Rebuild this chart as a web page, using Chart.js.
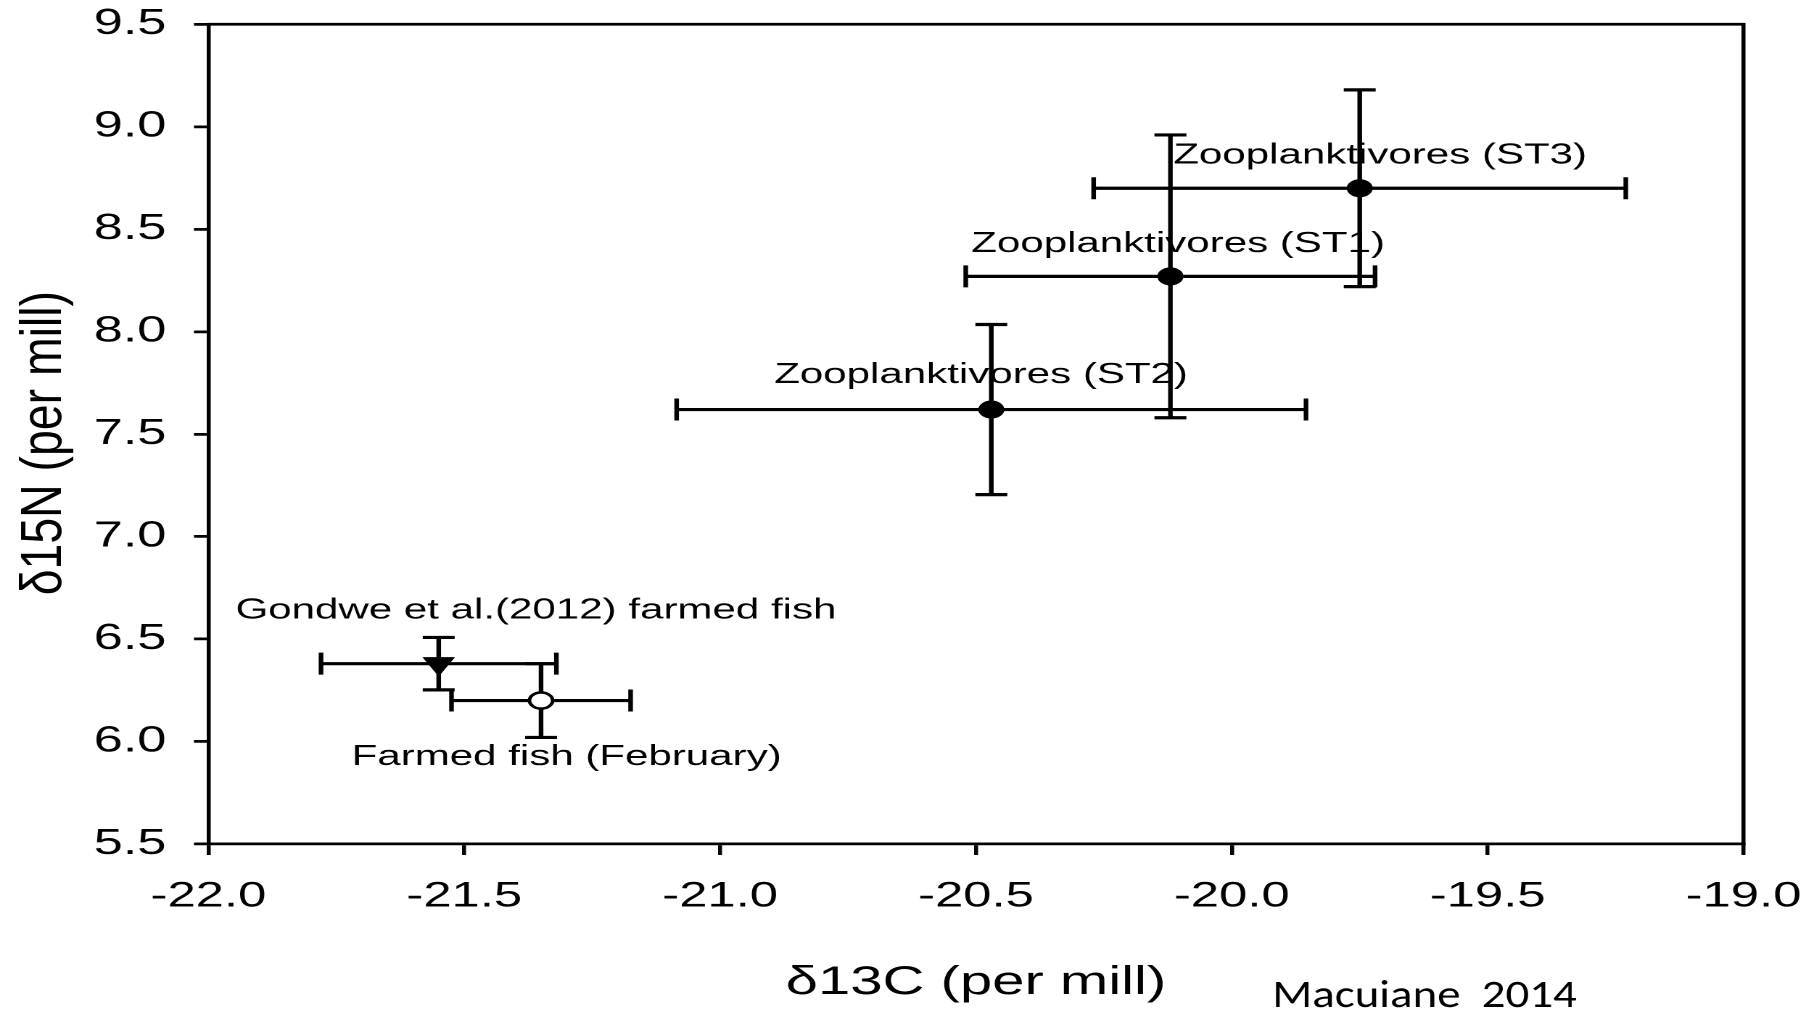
<!DOCTYPE html>
<html>
<head>
<meta charset="utf-8">
<title>d13C vs d15N</title>
<script src="https://cdn.jsdelivr.net/npm/chart.js@4.4.1/dist/chart.umd.min.js"></script>
<style>
  html, body { margin: 0; padding: 0; background: #fff; overflow: hidden; }
  /* the source figure is stretched sideways, so the chart is drawn narrow and widened */
  #wrap { width: 1254px; height: 1016px; transform: scaleX(1.4506); transform-origin: 0 0; }
</style>
</head>
<body>
<div id="wrap"><canvas id="isoChart" width="1254" height="1016"></canvas></div>
<script>
const groups = ['Zooplanktivores (ST3)', 'Zooplanktivores (ST1)', 'Zooplanktivores (ST2)',
                'Gondwe et al.(2012) farmed fish', 'Farmed fish (February)'];
const d13C    = [-19.75, -20.12, -20.47, -21.55, -21.35];
const d15N    = [8.70, 8.27, 7.62, 6.38, 6.20];
const d13CErr = [0.52, 0.40, 0.615, 0.23, 0.175];
const d15NErr = [0.48, 0.69, 0.415, 0.128, 0.18];

const xTicks = [-22.0, -21.5, -21.0, -20.5, -20.0, -19.5, -19.0];
const yTicks = [5.5, 6.0, 6.5, 7.0, 7.5, 8.0, 8.5, 9.0, 9.5];

// where each group's name is written (data units, text centre / baseline)
const labelX = [-19.71, -20.105, -20.49, -21.36, -21.30];
const labelY = [8.82, 8.39, 7.75, 6.60, 5.885];

const FONT = "'Liberation Sans', Arial, sans-serif";

function pointsFor(idx) {
  return idx.map(i => ({ x: d13C[i], y: d15N[i] }));
}

const errorBars = {
  id: 'errorBars',
  beforeDatasetsDraw(chart) {
    const { ctx, scales: { x, y } } = chart;
    const cap = 11;
    ctx.save();
    ctx.strokeStyle = '#000';
    ctx.lineWidth = 3.2;
    d13C.forEach((cx, i) => {
      const px = x.getPixelForValue(cx);
      const py = y.getPixelForValue(d15N[i]);
      const x0 = x.getPixelForValue(cx - d13CErr[i]);
      const x1 = x.getPixelForValue(cx + d13CErr[i]);
      const y0 = y.getPixelForValue(d15N[i] + d15NErr[i]);
      const y1 = y.getPixelForValue(d15N[i] - d15NErr[i]);
      ctx.beginPath();
      ctx.moveTo(x0, py); ctx.lineTo(x1, py);
      ctx.moveTo(x0, py - cap); ctx.lineTo(x0, py + cap);
      ctx.moveTo(x1, py - cap); ctx.lineTo(x1, py + cap);
      ctx.moveTo(px, y0); ctx.lineTo(px, y1);
      ctx.moveTo(px - cap, y0); ctx.lineTo(px + cap, y0);
      ctx.moveTo(px - cap, y1); ctx.lineTo(px + cap, y1);
      ctx.stroke();
    });
    ctx.restore();
  }
};

// top and right sides of the box
const frame = {
  id: 'frame',
  afterDraw(chart) {
    const { ctx, chartArea: a } = chart;
    ctx.save();
    ctx.strokeStyle = '#000';
    ctx.lineWidth = 2.75;
    ctx.lineCap = 'square';
    ctx.beginPath();
    ctx.moveTo(a.left, a.top);
    ctx.lineTo(a.right, a.top);
    ctx.lineTo(a.right, a.bottom);
    ctx.stroke();
    ctx.restore();
  }
};

const texts = {
  id: 'texts',
  afterDraw(chart) {
    const { ctx, chartArea: a, scales: { x, y } } = chart;
    ctx.save();
    ctx.fillStyle = '#000';
    ctx.font = '29px ' + FONT;
    ctx.textAlign = 'center';
    ctx.textBaseline = 'alphabetic';
    groups.forEach((g, i) => {
      ctx.fillText(g, x.getPixelForValue(labelX[i]), y.getPixelForValue(labelY[i]));
    });

    // y axis title, a little longer than the font gives
    ctx.save();
    ctx.translate(31, (a.top + a.bottom) / 2 + 9);
    ctx.rotate(-Math.PI / 2);
    ctx.scale(1.16, 1);
    ctx.font = '40px ' + FONT;
    ctx.textBaseline = 'middle';
    ctx.fillText('δ15N (per mill)', 0, 0);
    ctx.restore();

    ctx.font = "39px Carlito, Lato, 'Noto Sans', sans-serif";
    ctx.textAlign = 'left';
    ctx.fillText('Macuiane  2014', 877, 1007, 210);
    ctx.restore();
  }
};

const axisLine = { display: true, color: '#000', width: 2.75 };

new Chart(document.getElementById('isoChart'), {
  type: 'scatter',
  data: {
    datasets: [
      {
        label: 'Zooplanktivores',
        data: pointsFor([0, 1, 2]),
        pointStyle: 'circle',
        pointRadius: 8.5,
        backgroundColor: '#000',
        borderColor: '#000',
        borderWidth: 1
      },
      {
        label: 'Gondwe et al. (2012)',
        data: pointsFor([3]),
        pointStyle: 'triangle',
        rotation: 180,
        pointRadius: 12,
        backgroundColor: '#000',
        borderColor: '#000',
        borderWidth: 1
      },
      {
        label: 'Farmed fish (February)',
        data: pointsFor([4]),
        pointStyle: 'circle',
        pointRadius: 8,
        backgroundColor: '#fff',
        borderColor: '#000',
        borderWidth: 2.5
      }
    ]
  },
  options: {
    responsive: false,
    devicePixelRatio: 2,
    animation: false,
    layout: { padding: { top: 24.3, right: 52.1, left: 0, bottom: 0 } },
    plugins: { legend: { display: false }, tooltip: { enabled: false } },
    scales: {
      x: {
        type: 'linear',
        min: -22,
        max: -19,
        afterBuildTicks: s => { s.ticks = xTicks.map(v => ({ value: v })); },
        afterFit: s => { s.height = 172; s.paddingLeft = 0; s.paddingRight = 0; },
        border: axisLine,
        grid: { drawOnChartArea: false, drawTicks: true, tickLength: 11, color: '#000', lineWidth: 2.75 },
        ticks: { color: '#000', font: { family: FONT, size: 35 }, padding: 21, maxRotation: 0,
                 callback: v => Number(v).toFixed(1) },
        title: { display: true, text: 'δ13C (per mill)', color: '#000',
                 font: { family: FONT, size: 40 }, padding: { top: 0, bottom: 9 } }
      },
      y: {
        type: 'linear',
        min: 5.5,
        max: 9.5,
        afterBuildTicks: s => { s.ticks = yTicks.map(v => ({ value: v })); },
        afterFit: s => { s.width = 143.7; s.paddingTop = 0; s.paddingBottom = 0; },
        border: axisLine,
        grid: { drawOnChartArea: false, drawTicks: true, tickLength: 10, color: '#000', lineWidth: 2.75 },
        ticks: { color: '#000', font: { family: FONT, size: 36 }, padding: 19,
                 callback: v => Number(v).toFixed(1) },
        title: { display: false }
      }
    }
  },
  plugins: [errorBars, frame, texts]
});
</script>
</body>
</html>
